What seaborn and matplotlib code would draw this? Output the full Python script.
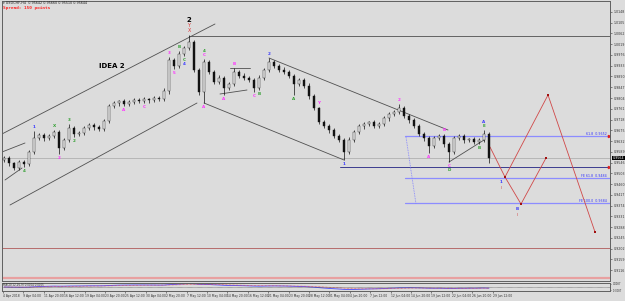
import matplotlib
matplotlib.use("Agg")
import matplotlib.pyplot as plt
import matplotlib.transforms as mtransforms
import numpy as np
import pandas as pd
import seaborn as sns

sns.set_theme(style="white")
plt.rcParams["font.family"] = ["DejaVu Sans"]

# H4 candles (simplified), closes and wick lengths in pips
first_open = 0.9556
closes = [
    0.9564, 0.9544, 0.9524, 0.9548, 0.9540, 0.9588, 0.9644, 0.9656, 0.9644, 0.9652,
    0.9668, 0.9604, 0.9636, 0.9684, 0.9660, 0.9664, 0.9684, 0.9696, 0.9688, 0.9680,
    0.9712, 0.9772, 0.9784, 0.9792, 0.9780, 0.9788, 0.9796, 0.9792, 0.9800, 0.9796,
    0.9804, 0.9800, 0.9832, 0.9956, 0.9932, 0.9980, 1.0004, 1.0028, 0.9916, 0.9828,
    0.9948, 0.9908, 0.9868, 0.9884, 0.9844, 0.9860, 0.9908, 0.9892, 0.9884, 0.9876,
    0.9844, 0.9884, 0.9916, 0.9948, 0.9932, 0.9916, 0.9908, 0.9892, 0.9860, 0.9876,
    0.9852, 0.9812, 0.9764, 0.9708, 0.9692, 0.9676, 0.9652, 0.9636, 0.9588, 0.9636,
    0.9668, 0.9692, 0.9700, 0.9708, 0.9692, 0.9700, 0.9724, 0.9740, 0.9748, 0.9764,
    0.9732, 0.9716, 0.9692, 0.9660, 0.9644, 0.9612, 0.9644, 0.9652, 0.9620, 0.9588,
    0.9644, 0.9652, 0.9636, 0.9640, 0.9628, 0.9636, 0.9660, 0.9564,
]
wick_up = [
    8, 8, 6, 8, 10, 8, 30, 8, 10, 8,
    8, 10, 8, 16, 8, 8, 10, 8, 8, 8,
    10, 8, 8, 6, 8, 8, 10, 8, 8, 6,
    8, 8, 10, 12, 8, 10, 8, 28, 8, 8,
    10, 8, 8, 10, 8, 8, 16, 8, 10, 8,
    8, 10, 8, 16, 8, 8, 10, 8, 8, 8,
    8, 10, 8, 6, 8, 8, 10, 8, 8, 12,
    8, 10, 8, 6, 8, 8, 10, 8, 8, 16,
    8, 8, 10, 8, 8, 8, 10, 8, 8, 8,
    10, 8, 8, 6, 8, 8, 16, 8,
]
wick_dn = [
    8, 10, 8, 8, 12, 8, 8, 8, 10, 8,
    8, 24, 8, 8, 10, 8, 8, 8, 10, 8,
    8, 8, 8, 10, 8, 6, 8, 8, 8, 10,
    8, 8, 8, 10, 12, 8, 8, 8, 10, 12,
    44, 8, 10, 8, 28, 8, 8, 8, 10, 8,
    16, 8, 8, 8, 10, 8, 8, 8, 44, 8,
    8, 10, 8, 8, 8, 10, 8, 8, 32, 8,
    8, 8, 10, 8, 8, 8, 8, 10, 8, 8,
    8, 10, 8, 8, 10, 28, 8, 8, 10, 40,
    8, 8, 10, 8, 8, 8, 8, 20,
]

date_labels = [
    "4 Apr 2018", "9 Apr 04:00", "11 Apr 20:00", "16 Apr 12:00", "19 Apr 04:00",
    "23 Apr 20:00", "25 Apr 12:00", "30 Apr 04:00", "2 May 20:00", "7 May 12:00",
    "10 May 04:00", "14 May 20:00", "16 May 12:00", "21 May 04:00", "23 May 20:00",
    "28 May 12:00", "31 May 04:00", "4 Jun 20:00", "7 Jun 12:00", "12 Jun 04:00",
    "14 Jun 20:00", "19 Jun 12:00", "22 Jun 04:00", "26 Jun 20:00", "29 Jun 12:00",
]

# analyst trendlines: (x0, p0, x1, p1)
trendlines = [
    (-0.8, 0.9656, 42.2, 1.0100),
    (1.2, 0.9376, 38.6, 0.9784),
    (37.0, 1.0050, 121.2, 1.0050),
    (53.0, 0.9964, 88.8, 0.9676),
    (40.0, 0.9784, 68.0, 0.9556),
    (89.0, 0.9548, 96.0, 0.9636),
    (43.2, 0.9820, 48.6, 0.9836),
    (45.2, 0.9924, 49.2, 0.9924),
    (-0.4, 0.9588, 4.2, 0.9624),
    (0.2, 0.9476, 3.6, 0.9524),
]
fib_levels = [0.9652, 0.9484, 0.9384]
fib_texts = ["61.8  0.9652", "FE 61.8  0.9484", "FE 100.0  0.9384"]
support_level = 0.9528
red_level = 0.9204
pink_level = 0.9084

proj_a_x = [97.2, 100.2, 108.8, 118.2]
proj_a_p = [0.9608, 0.9488, 0.9816, 0.9268]
proj_b_x = [100.2, 103.4, 108.4]
proj_b_p = [0.9488, 0.9380, 0.9564]

# wave labels: (bar, side, stack, text, colour key)
wave_labels = [
    (4, "b", 0, "4", "g"), (6, "a", 0, "1", "b"), (10, "a", 0, "X", "g"),
    (11, "b", 0, "2", "p"), (13, "a", 0, "3", "g"), (14, "b", 0, "2", "g"),
    (24, "b", 0, "A", "p"), (28, "b", 0, "C", "p"), (33, "a", 0, "3", "p"),
    (34, "b", 0, "5", "p"), (35, "a", 0, "B", "g"), (36, "b", 0, "C", "g"),
    (36, "b", 1, "4", "b"), (40, "b", 0, "A", "p"), (40, "a", 0, "C", "p"),
    (40, "a", 1, "4", "g"), (44, "b", 0, "A", "p"), (46, "a", 0, "B", "p"),
    (50, "b", 0, "C", "p"), (51, "b", 0, "B", "g"), (53, "a", 0, "2", "b"),
    (58, "b", 0, "A", "g"), (63, "a", 0, "Y", "p"), (68, "b", 0, "1", "b"),
    (79, "a", 0, "2", "p"), (85, "b", 0, "A", "p"), (88, "a", 0, "B", "p"),
    (89, "b", 0, "C", "p"), (89, "b", 1, "D", "g"), (96, "a", 0, "E", "g"),
    (96, "a", 1, "A", "b"), (95, "b", 0, "B", "g"),
]
label_colors = {"p": "#ff33ff", "g": "#33a033", "b": "#3a3aff"}

close = np.array(closes)
opens = np.r_[first_open, close[:-1]]
high = np.maximum(opens, close) + np.array(wick_up) / 10000
low = np.minimum(opens, close) - np.array(wick_dn) / 10000
bars = pd.DataFrame({"idx": np.arange(len(close)), "open": opens, "close": close,
                     "high": high, "low": low})

macd_fast = bars["close"].ewm(span=12, adjust=False).mean()
macd_slow = bars["close"].ewm(span=26, adjust=False).mean()
bars["macd"] = macd_fast - macd_slow
bars["signal"] = bars["macd"].ewm(span=9, adjust=False).mean()

BG = "#dcdcdc"
fig = plt.figure(figsize=(6.25, 3.01), dpi=100, facecolor=BG)
ax = fig.add_axes([0.0032, 0.0664, 0.9728, 0.9303], facecolor=BG)
ax2 = fig.add_axes([0.0032, 0.0332, 0.9728, 0.0266], facecolor=BG, sharex=ax)

# candles
ax.vlines(bars["idx"], bars["low"], bars["high"], color="#111111", lw=0.5, zorder=3)
body_col = np.where(bars["close"] >= bars["open"], "#f4f4f4", "#111111")
ax.bar(bars["idx"], (bars["close"] - bars["open"]).abs(),
       bottom=np.minimum(bars["open"], bars["close"]), width=0.55,
       color=body_col, edgecolor="#111111", linewidth=0.3, zorder=4)

for x0, p0, x1, p1 in trendlines:
    ax.plot([x0, x1], [p0, p1], color="#505050", lw=0.6, zorder=2)

ax.axhline(close[-1], color="#a8a8a8", lw=0.5, zorder=1)
ax.axhline(red_level, color="#b05a5a", lw=0.6, zorder=1)
ax.axhline(pink_level, color="#e8a0a0", lw=1.6, zorder=1)
ax.plot([67.2, 121.2], [support_level] * 2, color="#3b3b8f", lw=0.7, zorder=2)
for lvl, txt in zip(fib_levels, fib_texts):
    ax.plot([80.2, 121.2], [lvl, lvl], color="#8c8cff", lw=0.9, zorder=2)
    ax.text(120.6, lvl + 0.0002, txt, ha="right", va="bottom", fontsize=2.3,
            color="#3030ff")
ax.plot([80.4, 82.4], [0.9648, 0.9380], color="#8080ff", lw=0.6, ls=(0, (1, 1)))
ax.plot([120.9, 120.9], [fib_levels[0], support_level], ls="none", marker=">",
        ms=1.6, color="#e02020")

# projected path
ax.plot(proj_a_x, proj_a_p, color="#d04848", lw=0.6, zorder=3)
ax.plot(proj_b_x, proj_b_p, color="#d04848", lw=0.6, zorder=3)
proj_pts = pd.DataFrame({"x": proj_a_x[1:] + proj_b_x[1:], "p": proj_a_p[1:] + proj_b_p[1:]})
sns.scatterplot(data=proj_pts, x="x", y="p", marker="s", s=3, color="#a01010",
                edgecolor="none", ax=ax, zorder=5, legend=False)
for px_, pp_, t in [(100.2, 0.9488, "1"), (103.4, 0.9380, "B")]:
    ax.text(px_ - 0.8, pp_ - 0.0010, t, ha="center", va="top", fontsize=3,
            color="#3a3aff", fontweight="bold")
    ax.text(px_ - 0.8, pp_ - 0.0034, "I", ha="center", va="top", fontsize=3,
            color="#d04040")

for i, side, stack, t, c in wave_labels:
    if side == "a":
        y = high[i] + 0.0008 + stack * 0.0016
        va = "bottom"
    else:
        y = low[i] - 0.0008 - stack * 0.0016
        va = "top"
    ax.text(i, y, t, ha="center", va=va, fontsize=3, color=label_colors[c],
            fontweight="bold", zorder=6)

pk = 37
ax.text(pk, high[pk] + 0.0006, "X", ha="center", va="bottom", fontsize=3.4, color="#e03030")
ax.text(pk, high[pk] + 0.0026, "Y", ha="center", va="bottom", fontsize=3.4, color="#e03030")
ax.text(pk, high[pk] + 0.0046, "2", ha="center", va="bottom", fontsize=5,
        color="black", fontweight="bold")
ax.text(21.6, 0.9932, "IDEA 2", ha="center", va="center", fontsize=5,
        color="black", fontweight="bold")

ax.set_xlim(-0.4, 121.2)
ax.set_ylim(0.9072, 1.0192)
ax.set_xlabel("")
ax.set_ylabel("")
ax.yaxis.tick_right()
ax.set_yticks(np.round(1.0148 - 0.0043 * np.arange(25), 4))
ax.yaxis.set_major_formatter(matplotlib.ticker.FormatStrFormatter("%.4f"))
ax.tick_params(axis="y", length=1.5, width=0.4, pad=1, labelsize=2.3,
               colors="#333333", right=True)
ax.tick_params(axis="x", bottom=False, labelbottom=False)
for s in ax.spines.values():
    s.set_color("#606060")
    s.set_linewidth(0.7)

tr = mtransforms.blended_transform_factory(ax.transAxes, ax.transData)
ax.text(1.004, close[-1], f"{close[-1]:.4f}", transform=tr, ha="left", va="center",
        fontsize=2.3, color="white", bbox=dict(boxstyle="square,pad=0.15",
                                              fc="black", ec="none"))

# indicator window
sns.lineplot(data=bars, x="idx", y="macd", color="#4a4aff", lw=0.6, ax=ax2)
sns.lineplot(data=bars, x="idx", y="signal", color="#e04040", lw=0.5,
             ls=(0, (1, 1)), ax=ax2)
ax2.axhline(0, color="#333333", lw=0.4, ls=(0, (1, 1)))
lim = np.abs(bars["macd"]).max() * 1.2
ax2.set_ylim(-lim, lim)
ax2.set_xlabel("")
ax2.set_ylabel("")
ax2.yaxis.tick_right()
ax2.set_yticks([lim * 0.85, -lim * 0.85])
ax2.set_yticklabels([f"{lim * 0.85:.4f}", f"{-lim * 0.85:.4f}"])
ax2.tick_params(axis="y", length=1, width=0.4, pad=1, labelsize=1.8, colors="#333333")
ax2.set_xticks(np.arange(len(date_labels)) * 4.08 - 0.2)
ax2.set_xticklabels(date_labels, ha="left")
ax2.tick_params(axis="x", length=1.5, width=0.4, pad=0.8, labelsize=2.2,
                colors="#333333", bottom=True)
for s in ax2.spines.values():
    s.set_color("#606060")
    s.set_linewidth(0.7)
ax2.text(0.002, 0.95, "MACD(12,26,9) 0.0004 0.0005", transform=ax2.transAxes,
         ha="left", va="top", fontsize=2, color="#333333")

fig.text(3 / 625, 1 - 3.5 / 301, "▾ USDCHF,H4  0.95642 0.95660 0.95510 0.95644",
         ha="left", va="center", fontsize=2.4, color="#222222")
fig.text(3 / 625, 1 - 8.5 / 301, "Spread: 150 points", ha="left", va="center",
         fontsize=3.2, color="#ff2020", fontweight="bold", family="DejaVu Sans Mono")

fig.savefig("out.png", dpi=100, facecolor=BG)
